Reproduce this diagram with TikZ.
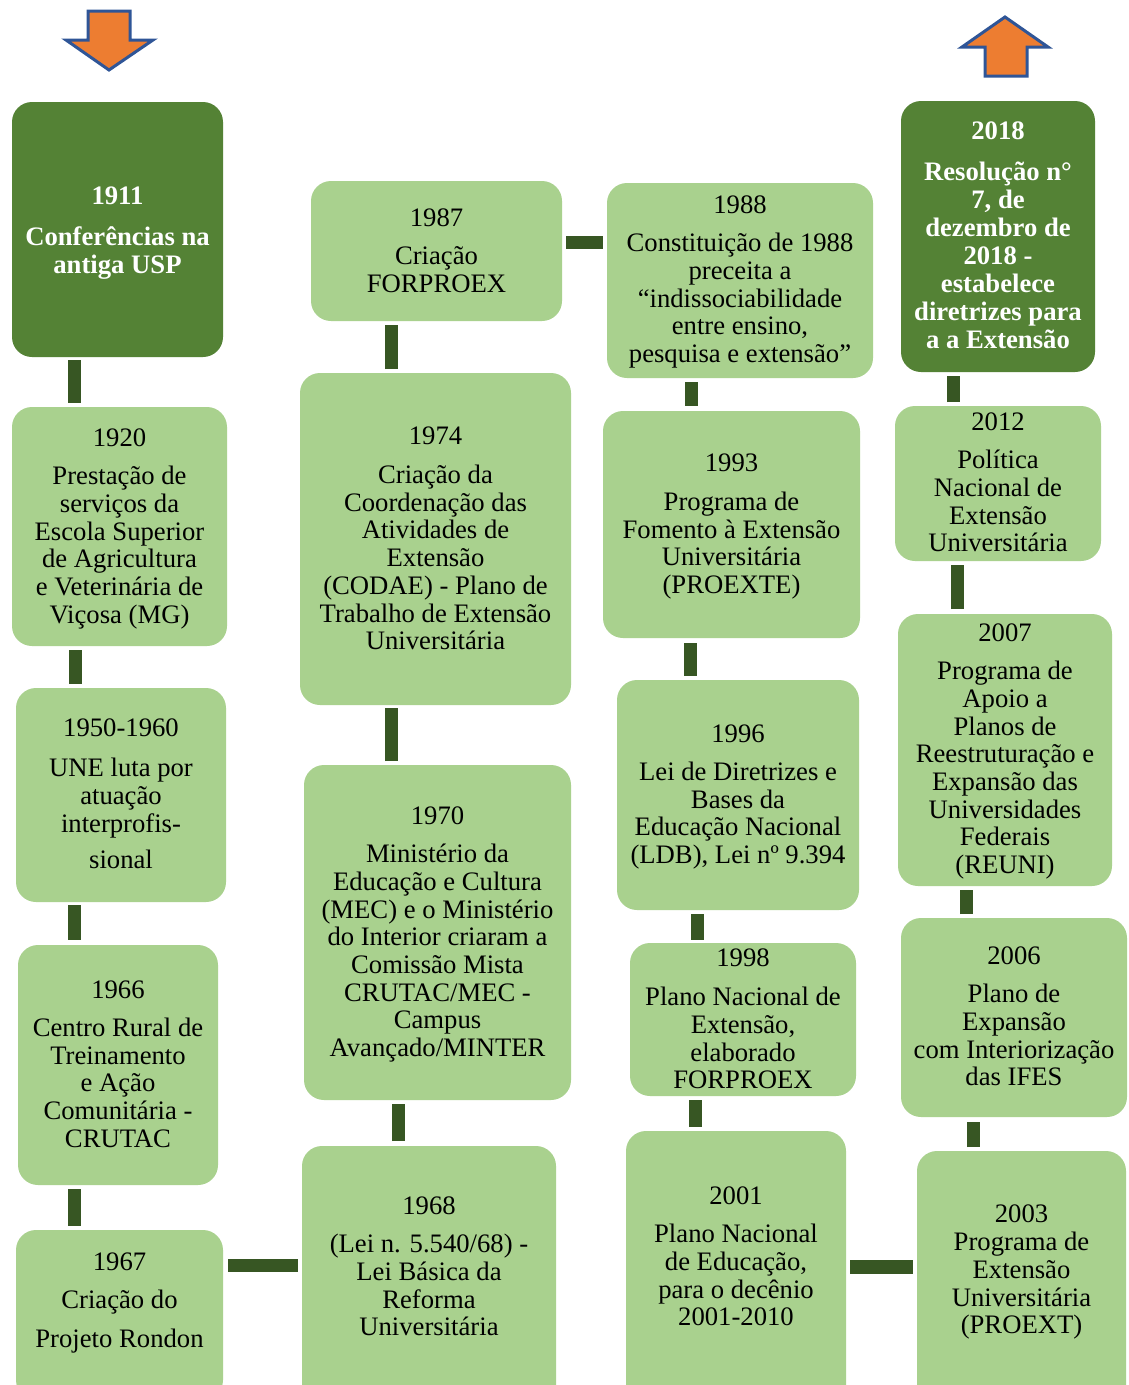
\documentclass[tikz,border=0pt]{standalone}
\usepackage{fontspec}
\setmainfont{Liberation Serif}
\definecolor{lgreen}{HTML}{A9D18E}
\definecolor{dgreen}{HTML}{548235}
\definecolor{cgreen}{HTML}{375623}
\definecolor{aorange}{HTML}{ED7D31}
\definecolor{ablue}{HTML}{2F5597}
\begin{document}
\begin{tikzpicture}[x=1pt,y=-1pt,
  box/.style={rectangle, rounded corners=20pt, outer sep=0pt, inner sep=0pt},
  lbox/.style={box, fill=lgreen},
  dbox/.style={box, fill=dgreen},
  lt/.style={anchor=north, align=center, inner sep=0pt, font=\fontsize{26.67}{27.7}\selectfont},
  dt/.style={anchor=north, align=center, inner sep=0pt, text=white, font=\fontsize{26.67}{28}\selectfont\bfseries},
  conn/.style={draw=cgreen, line width=13pt},
  bigarrow/.style={fill=aorange, draw=ablue, line width=3pt, line join=miter}]
\clip (0,0) rectangle (1128,1385);
\fill[white] (0,0) rectangle (1128,1385);

% arrows
\draw[bigarrow] (88,11) -- (130,11) -- (130,40) -- (153,40) -- (109,70) -- (66,40) -- (88,40) -- cycle;
\draw[bigarrow] (1005,17) -- (1048,47) -- (1027,47) -- (1027,76) -- (985,76) -- (985,47) -- (962,47) -- cycle;

% boxes
\node[dbox, minimum width=211pt, minimum height=255pt] (n1911) at (117.5,229.5) {};
\node[lbox, minimum width=215pt, minimum height=239pt] (n1920) at (119.5,526.5) {};
\node[lbox, minimum width=210pt, minimum height=214pt] (n1950) at (121,795) {};
\node[lbox, minimum width=200pt, minimum height=240pt] (n1966) at (118,1065) {};
\node[lbox, minimum width=207pt, minimum height=170pt] (n1967) at (119.5,1315) {};
\node[lbox, minimum width=254pt, minimum height=259pt] (n1968) at (429,1275.5) {};
\node[lbox, minimum width=267pt, minimum height=335pt] (n1970) at (437.5,932.5) {};
\node[lbox, minimum width=271pt, minimum height=332pt] (n1974) at (435.5,539) {};
\node[lbox, minimum width=251pt, minimum height=140pt] (n1987) at (436.5,251) {};
\node[lbox, minimum width=266pt, minimum height=195pt] (n1988) at (740,280.5) {};
\node[lbox, minimum width=257pt, minimum height=227pt] (n1993) at (731.5,524.5) {};
\node[lbox, minimum width=242pt, minimum height=230pt] (n1996) at (738,795) {};
\node[lbox, minimum width=226pt, minimum height=153pt] (n1998) at (743,1019.5) {};
\node[lbox, minimum width=220pt, minimum height=274pt] (n2001) at (736,1268) {};
\node[lbox, minimum width=209pt, minimum height=254pt] (n2003) at (1021.5,1278) {};
\node[lbox, minimum width=226pt, minimum height=199pt] (n2006) at (1014,1017.5) {};
\node[lbox, minimum width=214pt, minimum height=272pt] (n2007) at (1005,750) {};
\node[lbox, minimum width=206pt, minimum height=155pt] (n2012) at (998,483.5) {};
\node[dbox, minimum width=194pt, minimum height=271pt] (n2018) at (998,236.5) {};

% texts
\node[dt] (t1911) at (117.5,187) {1911\\[13pt]Conferências na\\antiga USP};
\node[lt] (t1920) at (119.5,429) {1920\\[10pt]Prestação de\\serviços da\\Escola Superior\\de Agricultura\\e Veterinária de\\Viçosa (MG)};
\node[lt] (t1950) at (121,719) {1950-1960\\[12pt]UNE luta por\\atuação\\interprofis-\\[9pt]sional};
\node[lt] (t1966) at (118,981) {1966\\[10pt]Centro Rural de\\Treinamento\\e Ação\\Comunitária -\\CRUTAC};
\node[lt] (t1967) at (119.5,1253) {1967\\[10pt]Criação do\\[11pt]Projeto Rondon};
\node[lt] (t1968) at (429,1197) {1968\\[10pt](Lei n. 5.540/68) -\\Lei Básica da\\Reforma\\Universitária};
\node[lt] (t1970) at (437.5,807) {1970\\[10pt]Ministério da\\Educação e Cultura\\(MEC) e o Ministério\\do Interior criaram a\\Comissão Mista\\CRUTAC/MEC -\\Campus\\Avançado/MINTER};
\node[lt] (t1974) at (435.5,427) {1974\\[11pt]Criação da\\Coordenação das\\Atividades de\\Extensão\\(CODAE) - Plano de\\Trabalho de Extensão\\Universitária};
\node[lt] (t1987) at (436.5,209) {1987\\[10pt]Criação\\FORPROEX};
\node[lt] (t1988) at (740,196) {1988\\[10pt]Constituição de 1988\\preceita a\\“indissociabilidade\\entre ensino,\\pesquisa e extensão”};
\node[lt] (t1993) at (731.5,454) {1993\\[11pt]Programa de\\Fomento à Extensão\\Universitária\\(PROEXTE)};
\node[lt] (t1996) at (738,725) {1996\\[10pt]Lei de Diretrizes e\\Bases da\\Educação Nacional\\(LDB), Lei nº 9.394};
\node[lt] (t1998) at (743,949) {1998\\[11pt]Plano Nacional de\\Extensão,\\elaborado\\FORPROEX};
\node[lt] (t2001) at (736,1187) {2001\\[10pt]Plano Nacional\\de Educação,\\para o decênio\\2001-2010};
\node[lt] (t2003) at (1021.5,1205) {2003\\Programa de\\Extensão\\Universitária\\(PROEXT)};
\node[lt] (t2006) at (1014,947) {2006\\[10pt]Plano de\\Expansão\\com Interiorização\\das IFES};
\node[lt] (t2007) at (1005,624) {2007\\[10pt]Programa de\\Apoio a\\Planos de\\Reestruturação e\\Expansão das\\Universidades\\Federais\\(REUNI)};
\node[lt] (t2012) at (998,413) {2012\\[10pt]Política\\Nacional de\\Extensão\\Universitária};
\node[dt] (t2018) at (998,122) {2018\\[13pt]Resolução n°\\7, de\\dezembro de\\2018 -\\estabelece\\diretrizes para\\a a Extensão};

% connectors
\draw[conn, shorten <=3pt, shorten >=4pt] ([xshift=-43.5pt]n1911.south) -- ([xshift=-45.5pt]n1920.north);
\draw[conn, shorten <=4pt, shorten >=4pt] ([xshift=-44.5pt]n1920.south) -- ([xshift=-46pt]n1950.north);
\draw[conn, shorten <=3pt, shorten >=5pt] ([xshift=-47pt]n1950.south) -- ([xshift=-44pt]n1966.north);
\draw[conn, shorten <=4pt, shorten >=4pt] ([xshift=-44pt]n1966.south) -- ([xshift=-45.5pt]n1967.north);
\draw[conn, shorten <=5pt, shorten >=4pt] ([yshift=49.5pt]n1967.east) -- ([yshift=10pt]n1968.west);
\draw[conn, shorten <=5pt, shorten >=4pt] ([xshift=-31pt]n1968.north) -- ([xshift=-39.5pt]n1970.south);
\draw[conn, shorten <=4pt, shorten >=3pt] ([xshift=-46.5pt]n1970.north) -- ([xshift=-44.5pt]n1974.south);
\draw[conn, shorten <=4pt, shorten >=4pt] ([xshift=-44.5pt]n1974.north) -- ([xshift=-45.5pt]n1987.south);
\draw[conn, shorten <=4pt, shorten >=4pt] ([yshift=8.5pt]n1987.east) -- ([yshift=38pt]n1988.west);
\draw[conn, shorten <=4pt, shorten >=5pt] ([xshift=-49pt]n1988.south) -- ([xshift=-40.5pt]n1993.north);
\draw[conn, shorten <=5pt, shorten >=4pt] ([xshift=-41.5pt]n1993.south) -- ([xshift=-48pt]n1996.north);
\draw[conn, shorten <=4pt, shorten >=3pt] ([xshift=-41pt]n1996.south) -- ([xshift=-46pt]n1998.north);
\draw[conn, shorten <=4pt, shorten >=4pt] ([xshift=-48pt]n1998.south) -- ([xshift=-41pt]n2001.north);
\draw[conn, line width=14pt, shorten <=4pt, shorten >=4pt] ([yshift=1pt]n2001.east) -- ([yshift=11pt]n2003.west);
\draw[conn, shorten <=4pt, shorten >=5pt] ([xshift=-48.5pt]n2003.north) -- ([xshift=-41pt]n2006.south);
\draw[conn, shorten <=4pt, shorten >=4pt] ([xshift=-48pt]n2006.north) -- ([xshift=-39pt]n2007.south);
\draw[conn, shorten <=5pt, shorten >=4pt] ([xshift=-48pt]n2007.north) -- ([xshift=-41pt]n2012.south);
\draw[conn, shorten <=4pt, shorten >=4pt] ([xshift=-45pt]n2012.north) -- ([xshift=-45pt]n2018.south);
\end{tikzpicture}
\end{document}
